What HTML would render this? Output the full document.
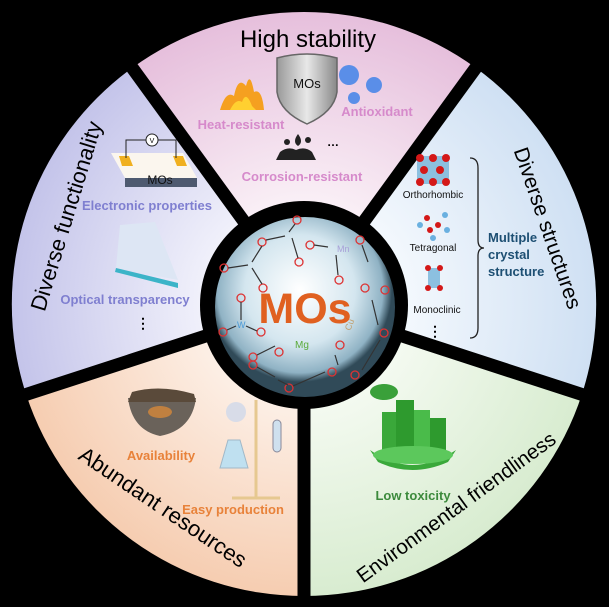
<!DOCTYPE html>
<html><head><meta charset="utf-8"><style>
html,body{margin:0;padding:0;background:#000;width:609px;height:607px;overflow:hidden}
svg{display:block}
text{font-family:"Liberation Sans",Arial,sans-serif}
.b{font-weight:bold}
</style></head><body>
<svg width="609" height="607" viewBox="0 0 609 607" xmlns="http://www.w3.org/2000/svg">
<defs>
<radialGradient id="gp" cx="304" cy="304" r="292" gradientUnits="userSpaceOnUse"><stop offset="0.3" stop-color="#fbf3f8"/><stop offset="1" stop-color="#e6bfdc"/></radialGradient>
<radialGradient id="gl" cx="304" cy="304" r="292" gradientUnits="userSpaceOnUse"><stop offset="0.3" stop-color="#f4f4fc"/><stop offset="1" stop-color="#c4c4ea"/></radialGradient>
<radialGradient id="gb" cx="304" cy="304" r="292" gradientUnits="userSpaceOnUse"><stop offset="0.3" stop-color="#f6fafe"/><stop offset="1" stop-color="#cfe0f3"/></radialGradient>
<radialGradient id="go" cx="304" cy="304" r="292" gradientUnits="userSpaceOnUse"><stop offset="0.3" stop-color="#fdf2ea"/><stop offset="1" stop-color="#f6cdb1"/></radialGradient>
<radialGradient id="gg" cx="304" cy="304" r="292" gradientUnits="userSpaceOnUse"><stop offset="0.3" stop-color="#f6fbf3"/><stop offset="1" stop-color="#d8ecd0"/></radialGradient>
<radialGradient id="gc" cx="300" cy="290" r="92" gradientUnits="userSpaceOnUse"><stop offset="0" stop-color="#ffffff"/><stop offset="0.6" stop-color="#d4e6ef"/><stop offset="0.9" stop-color="#8fb2c4"/><stop offset="1" stop-color="#304a58"/></radialGradient>
<linearGradient id="sh" x1="0" x2="1"><stop offset="0" stop-color="#999"/><stop offset="0.5" stop-color="#e8e8e8"/><stop offset="1" stop-color="#888"/></linearGradient>
</defs>
<path d="M304,304 L132,68 A292,292 0 0 1 476,68 Z" fill="url(#gp)"/>
<path d="M304,304 L476,68 A292,292 0 0 1 582,394 Z" fill="url(#gb)"/>
<path d="M304,304 L582,394 A292,292 0 0 1 304,596 Z" fill="url(#gg)"/>
<path d="M304,304 L304,596 A292,292 0 0 1 26,394 Z" fill="url(#go)"/>
<path d="M304,304 L26,394 A292,292 0 0 1 132,68 Z" fill="url(#gl)"/>
<g stroke="#000" stroke-width="13">
<line x1="304" y1="304" x2="120" y2="51"/>
<line x1="304" y1="304" x2="488" y2="51"/>
<line x1="304" y1="304" x2="602" y2="401"/>
<line x1="304" y1="304" x2="304" y2="607"/>
<line x1="304" y1="304" x2="6" y2="401"/>
</g>
<circle cx="304" cy="305" r="104" fill="#000"/>
<circle cx="305" cy="307" r="90" fill="url(#gc)"/>
<g fill="none" stroke="#d33" stroke-width="1.3">
<circle cx="297" cy="220" r="4"/><circle cx="262" cy="242" r="4"/><circle cx="299" cy="262" r="4"/>
<circle cx="224" cy="268" r="4"/><circle cx="263" cy="288" r="4"/><circle cx="310" cy="245" r="4"/>
<circle cx="339" cy="280" r="4"/><circle cx="360" cy="240" r="4"/><circle cx="385" cy="290" r="4"/>
<circle cx="365" cy="288" r="4"/><circle cx="241" cy="298" r="4"/><circle cx="223" cy="332" r="4"/>
<circle cx="261" cy="332" r="4"/><circle cx="279" cy="352" r="4"/><circle cx="253" cy="357" r="4"/>
<circle cx="340" cy="345" r="4"/><circle cx="384" cy="333" r="4"/><circle cx="355" cy="375" r="4"/>
<circle cx="332" cy="372" r="4"/><circle cx="289" cy="388" r="4"/><circle cx="253" cy="365" r="4"/>
</g>
<g stroke="#333" stroke-width="1.2">
<line x1="266" y1="240" x2="285" y2="236"/><line x1="289" y1="232" x2="295" y2="224"/><line x1="292" y1="238" x2="298" y2="258"/>
<line x1="262" y1="246" x2="252" y2="262"/><line x1="228" y1="268" x2="248" y2="265"/><line x1="252" y1="268" x2="262" y2="284"/>
<line x1="314" y1="245" x2="328" y2="247"/><line x1="336" y1="255" x2="338" y2="275"/>
<line x1="362" y1="245" x2="368" y2="262"/><line x1="372" y1="300" x2="378" y2="325"/><line x1="380" y1="340" x2="362" y2="370"/>
<line x1="241" y1="302" x2="241" y2="320"/><line x1="227" y1="330" x2="236" y2="326"/><line x1="246" y1="326" x2="257" y2="331"/>
<line x1="257" y1="355" x2="275" y2="346"/><line x1="335" y1="355" x2="338" y2="365"/>
<line x1="257" y1="367" x2="275" y2="377"/><line x1="278" y1="380" x2="288" y2="385"/><line x1="293" y1="386" x2="325" y2="372"/>
</g>
<text x="337" y="252" font-size="9" fill="#a8a0d8">Mn</text>
<text x="237" y="328" font-size="9" fill="#4a9ad8">W</text>
<text x="295" y="348" font-size="10" fill="#5aaa3a">Mg</text>
<text x="344" y="330" font-size="9" fill="#c0a070" transform="rotate(-70 348 326)">Cu</text>
<text x="305" y="323" font-size="43" class="b" fill="#e06020" text-anchor="middle">MOs</text>

<text x="308" y="47" font-size="24" fill="#000" text-anchor="middle">High stability</text>
<path d="M277,58 Q307,50 337,58 L337,92 Q334,112 307,124 Q280,112 277,92 Z" fill="url(#sh)" stroke="#666" stroke-width="1.5"/>
<text x="307" y="88" font-size="13" fill="#111" text-anchor="middle">MOs</text>
<path d="M220,110 Q226,90 234,96 Q238,76 246,86 Q250,70 254,92 Q262,88 264,110 Z" fill="#f5a020"/>
<path d="M230,110 Q236,98 242,102 Q246,90 252,106 L256,110 Z" fill="#ffd030"/>
<circle cx="349" cy="75" r="10" fill="#5a8ee8"/><circle cx="374" cy="85" r="8" fill="#5a8ee8"/><circle cx="354" cy="98" r="6" fill="#5a8ee8"/>
<text x="241" y="129" font-size="13" class="b" fill="#d68acb" text-anchor="middle">Heat-resistant</text>
<text x="377" y="116" font-size="13" class="b" fill="#d68acb" text-anchor="middle">Antioxidant</text>
<path d="M276,160 L316,160 L312,152 Q305,146 296,150 Q288,146 280,152 Z" fill="#222"/>
<path d="M298,134 Q304,142 298,146 Q292,142 298,134 Z" fill="#222"/><circle cx="287" cy="142" r="3" fill="#222"/><circle cx="308" cy="140" r="3" fill="#222"/>
<text x="333" y="146" font-size="12" class="b" fill="#000" text-anchor="middle">…</text>
<text x="302" y="181" font-size="13" class="b" fill="#d68acb" text-anchor="middle">Corrosion-resistant</text>

<text x="0" y="0" dy="0.35em" font-size="22" fill="#000" text-anchor="middle" transform="translate(66,216) rotate(-73)">Diverse functionality</text>
<path d="M111,153 L183,153 L197,178 L125,178 Z" fill="#fbf6ee"/>
<path d="M125,178 L197,178 L197,187 L125,187 Z" fill="#4e5a70"/>
<path d="M119,156 L129,156 L133,166 L122,166 Z" fill="#f0b020"/><path d="M173,156 L183,156 L187,166 L177,166 Z" fill="#f0b020"/>
<polyline points="126,158 126,140 176,140 176,158" fill="none" stroke="#222" stroke-width="1"/>
<circle cx="152" cy="140" r="6" fill="#fff" stroke="#222"/><text x="152" y="143" font-size="7" text-anchor="middle">V</text>
<text x="160" y="184" font-size="12" fill="#111" text-anchor="middle">MOs</text>
<text x="147" y="210" font-size="13" class="b" fill="#7f7fd0" text-anchor="middle">Electronic properties</text>
<path d="M120,225 L155,222 L178,280 L116,268 Z" fill="#dde6f4"/>
<path d="M116,268 L178,283 L178,288 L115,272 Z" fill="#3cb4c8"/>
<text x="125" y="304" font-size="13" class="b" fill="#7f7fd0" text-anchor="middle">Optical transparency</text>
<text x="143" y="328" font-size="14" class="b" fill="#000" text-anchor="middle">⋮</text>

<text x="0" y="0" dy="0.35em" font-size="21" fill="#000" text-anchor="middle" transform="translate(548,228) rotate(71)">Diverse structures</text>
<rect x="417" y="156" width="32" height="28" fill="#8cc0e0"/>
<g fill="#d41818"><circle cx="420" cy="158" r="4"/><circle cx="433" cy="158" r="4"/><circle cx="446" cy="158" r="4"/><circle cx="424" cy="170" r="4"/><circle cx="440" cy="170" r="4"/><circle cx="420" cy="182" r="4"/><circle cx="433" cy="182" r="4"/><circle cx="446" cy="182" r="4"/></g>
<text x="433" y="198" font-size="10" fill="#111" text-anchor="middle">Orthorhombic</text>
<g fill="#6ab0e0"><circle cx="420" cy="225" r="3"/><circle cx="445" cy="215" r="3"/><circle cx="433" cy="238" r="3"/><circle cx="447" cy="230" r="3"/></g>
<g fill="#d41818"><circle cx="427" cy="218" r="3"/><circle cx="438" cy="225" r="3"/><circle cx="430" cy="230" r="3"/></g>
<text x="433" y="251" font-size="10" fill="#111" text-anchor="middle">Tetragonal</text>
<rect x="428" y="268" width="12" height="20" fill="#8cc0e0"/>
<g fill="#d41818"><circle cx="428" cy="268" r="3"/><circle cx="440" cy="268" r="3"/><circle cx="428" cy="288" r="3"/><circle cx="440" cy="288" r="3"/></g>
<text x="437" y="313" font-size="10" fill="#111" text-anchor="middle">Monoclinic</text>
<text x="435" y="336" font-size="14" class="b" fill="#000" text-anchor="middle">⋮</text>
<path d="M470,158 Q478,158 478,168 L478,240 Q478,248 484,248 Q478,248 478,256 L478,328 Q478,338 470,338" fill="none" stroke="#222" stroke-width="1.3"/>
<g font-size="13" class="b" fill="#1d4f73"><text x="488" y="242">Multiple</text><text x="488" y="259">crystal</text><text x="488" y="276">structure</text></g>

<text x="0" y="0" dy="0.35em" font-size="22" fill="#000" text-anchor="middle" transform="translate(163,507) rotate(34)">Abundant resources</text>
<path d="M128,398 L196,398 Q192,430 160,436 Q132,430 128,398 Z" fill="#6a625a"/>
<path d="M132,392 Q160,384 194,394 L196,402 L128,402 Z" fill="#5a4a3a"/>
<ellipse cx="160" cy="412" rx="12" ry="6" fill="#c08040"/>
<text x="161" y="460" font-size="13" class="b" fill="#e8823a" text-anchor="middle">Availability</text>
<line x1="256" y1="400" x2="256" y2="498" stroke="#e6c890" stroke-width="3"/>
<line x1="232" y1="498" x2="280" y2="498" stroke="#e6c890" stroke-width="3"/>
<path d="M228,440 L240,440 L248,468 L220,468 Z" fill="#bfe0f0" stroke="#a0b8c8"/>
<circle cx="236" cy="412" r="10" fill="#d8dce8"/>
<rect x="273" y="420" width="8" height="32" rx="4" fill="#cfe0ee" stroke="#889"/>
<text x="233" y="514" font-size="13" class="b" fill="#e8823a" text-anchor="middle">Easy production</text>

<text x="0" y="0" dy="0.35em" font-size="20.5" fill="#000" text-anchor="middle" transform="translate(456,507) rotate(-36)">Environmental friendliness</text>
<ellipse cx="384" cy="392" rx="14" ry="8" fill="#3aa03a"/>
<rect x="382" y="412" width="14" height="44" fill="#3aa83a"/>
<rect x="396" y="400" width="18" height="56" fill="#2e9a2e"/>
<rect x="414" y="410" width="16" height="46" fill="#4abb4a"/>
<rect x="430" y="418" width="16" height="38" fill="#2e9a2e"/>
<path d="M370,450 Q412,480 456,450 L448,462 Q412,478 378,462 Z" fill="#3aa83a"/>
<ellipse cx="413" cy="455" rx="40" ry="9" fill="#5cc85c"/>
<text x="413" y="500" font-size="13" class="b" fill="#3c8a3c" text-anchor="middle">Low toxicity</text>
</svg>
</body></html>
